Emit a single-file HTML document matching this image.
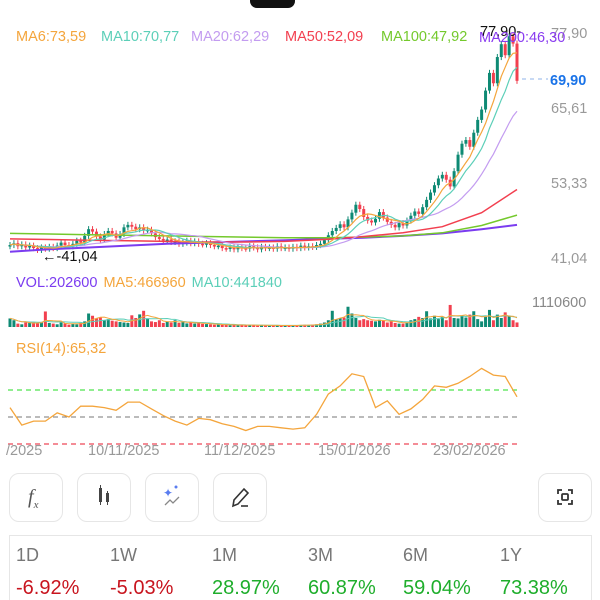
<!DOCTYPE html>
<html><head><meta charset="utf-8">
<style>
html,body{margin:0;padding:0;background:#fff;width:600px;height:600px;overflow:hidden;font-family:"Liberation Sans",sans-serif;}
#wrap{position:relative;width:600px;height:600px;}
.btn{position:absolute;top:473px;width:54px;height:49px;border:1px solid #e6e6e6;border-radius:10px;box-sizing:border-box;background:#fff;}
#stats{position:absolute;left:9px;top:535px;width:583px;height:70px;border:1px solid #e6e6e6;box-sizing:border-box;}
.lab{position:absolute;top:545px;font-size:18px;color:#777;}
.val{position:absolute;top:577px;font-size:20px;}
</style></head><body>
<div id="wrap">
<svg id="chart" width="600" height="470" style="position:absolute;left:0;top:0">
  <rect x="250" y="-10" width="45" height="18" rx="7" fill="#111"/>
  <g font-size="14.5">
    <text x="16" y="41" fill="#f4a53c">MA6:73,59</text>
    <text x="101" y="41" fill="#5ccfb8">MA10:70,77</text>
    <text x="191" y="41" fill="#c39cf0">MA20:62,29</text>
    <text x="285" y="41" fill="#f23f4f">MA50:52,09</text>
    <text x="381" y="41" fill="#74c92c">MA100:47,92</text>
  </g>
  <g font-size="14.5" fill="#999">
    <text x="551" y="38">77,90</text>
    <text x="551" y="113">65,61</text>
    <text x="551" y="188">53,33</text>
    <text x="551" y="263">41,04</text>
  </g>
  <g id="candles"></g>
  <g id="malines"></g>
  <text x="480" y="36" font-size="14.5" fill="#111">77,90-</text>
  <text x="479" y="42" font-size="14.5" fill="#8a3cf0">MA200:46,30</text>
  <text x="42" y="261" font-size="14.5" fill="#111">←-41,04</text>
  <line x1="522" y1="79" x2="548" y2="79" stroke="#8fb3e8" stroke-dasharray="4,4"/>
  <text x="550" y="85" font-size="14.5" fill="#1a73e8" font-weight="bold">69,90</text>

  <text x="16" y="287" font-size="14.5"><tspan fill="#7b3cf0">VOL:202600</tspan><tspan fill="#f4a53c" dx="6">MA5:466960</tspan><tspan fill="#5ccfb8" dx="6">MA10:441840</tspan></text>
  <text x="532" y="307" font-size="14.5" fill="#888">1110600</text>
  <g id="vols"></g>

  <text x="16" y="353" font-size="14.5" fill="#f4a53c">RSI(14):65,32</text>
  <line x1="8" y1="390" x2="520" y2="390" stroke="#22dd22" stroke-dasharray="5,4"/>
  <line x1="8" y1="417" x2="520" y2="417" stroke="#777" stroke-dasharray="5,4"/>
  <line x1="8" y1="444" x2="520" y2="444" stroke="#e8192c" stroke-dasharray="5,4"/>
  <g id="rsi"></g>
  <g font-size="14.5" fill="#999">
    <text x="6" y="455">/2025</text>
    <text x="88" y="455">10/11/2025</text>
    <text x="204" y="455">11/12/2025</text>
    <text x="318" y="455">15/01/2026</text>
    <text x="433" y="455">23/02/2026</text>
  </g>
</svg>

<div class="btn" style="left:9px"><span style="position:absolute;left:18px;top:12px;font-family:'Liberation Serif',serif;font-size:20px;color:#555;font-style:italic">f<sub style="font-size:11px">x</sub></span></div>
<div class="btn" style="left:77px">
  <svg width="54" height="49" style="position:absolute;left:-1px;top:-1px"><rect x="22" y="15" width="3" height="14" fill="#444"/><line x1="23.5" y1="12" x2="23.5" y2="32" stroke="#444"/><rect x="29" y="20" width="3" height="9" fill="#444"/><line x1="30.5" y1="18" x2="30.5" y2="32" stroke="#444"/></svg></div>
<div class="btn" style="left:145px">
  <svg width="54" height="49" style="position:absolute;left:-1px;top:-1px"><text x="18" y="24" font-size="12" fill="#5a7df0">✦</text><circle cx="31" cy="14" r="1.5" fill="#5a7df0"/><polyline points="20,32 25,27 28,30 34,24" fill="none" stroke="#888" stroke-width="1.3"/></svg></div>
<div class="btn" style="left:213px">
  <svg width="54" height="49" style="position:absolute;left:-1px;top:-1px"><path d="M20 33 L21 27 L31 16 L35 20 L25 31 Z" fill="none" stroke="#333" stroke-width="1.6"/><line x1="28" y1="33" x2="35" y2="33" stroke="#333" stroke-width="1.6"/></svg></div>
<div class="btn" style="left:538px">
  <svg width="54" height="49" style="position:absolute;left:-1px;top:-1px"><path d="M20 21 V17 H24 M30 17 H34 V21 M34 27 V31 H30 M24 31 H20 V27" fill="none" stroke="#333" stroke-width="1.8"/><rect x="24" y="21" width="6" height="6" rx="1" fill="none" stroke="#333" stroke-width="1.8"/></svg></div>

<div id="stats"></div>
<span class="lab" style="left:16px">1D</span>
<span class="lab" style="left:110px">1W</span>
<span class="lab" style="left:212px">1M</span>
<span class="lab" style="left:308px">3M</span>
<span class="lab" style="left:403px">6M</span>
<span class="lab" style="left:500px">1Y</span>
<span class="val" style="left:16px;color:#c8141e">-6.92%</span>
<span class="val" style="left:110px;color:#c8141e">-5.03%</span>
<span class="val" style="left:212px;color:#1fae2c">28.97%</span>
<span class="val" style="left:308px;color:#1fae2c">60.87%</span>
<span class="val" style="left:403px;color:#1fae2c">59.04%</span>
<span class="val" style="left:500px;color:#1fae2c">73.38%</span>
</div>
<script>
const closes = [43.0,43.3,42.8,43.1,42.6,42.9,42.5,42.2,42.6,42.4,
42.7,42.5,42.9,43.4,43.0,42.8,43.2,43.7,43.4,44.5,
45.6,45.2,44.4,43.9,44.8,45.3,44.9,44.2,44.8,45.9,
46.3,46.0,45.6,45.9,45.4,45.5,44.9,44.3,44.0,43.8,
43.9,43.5,43.6,43.2,43.4,43.7,43.3,43.6,43.2,43.1,
43.3,43.0,42.8,42.9,42.5,42.4,42.6,42.3,42.7,42.5,
42.4,42.8,42.6,42.3,42.7,42.5,42.6,42.4,42.8,42.5,
42.6,42.4,42.7,42.5,42.9,42.6,42.8,42.7,43.0,43.2,
43.8,44.6,45.3,45.8,46.4,45.9,47.2,48.3,49.6,48.9,
47.6,47.0,46.7,47.3,48.4,47.5,46.8,46.3,45.9,46.6,
46.2,47.0,47.8,48.5,48.1,49.2,50.4,51.6,52.8,53.9,
54.5,53.7,52.6,55.1,57.8,59.6,60.2,59.1,61.4,63.5,
65.2,68.3,71.2,69.5,73.8,75.9,74.1,77.2,76.0,69.9];
const volumes = [380,300,150,120,200,180,220,160,200,690,
180,150,120,200,160,100,150,120,180,250,
600,500,380,420,300,350,280,250,220,200,
180,520,400,560,720,380,250,220,300,180,
250,200,300,180,220,160,200,150,180,140,
130,120,100,110,90,100,80,90,80,100,
80,70,90,60,80,70,60,80,70,60,
70,60,80,70,90,100,80,110,120,150,
200,300,720,350,400,420,900,600,400,300,
350,300,280,250,320,300,200,250,180,150,
150,200,300,350,450,400,700,380,500,350,
450,300,980,400,380,500,420,550,700,350,
250,450,760,300,550,400,650,500,300,202];
const ma50 = [44.0,43.9,43.8,43.7,43.6,43.5,43.5,43.6,43.9,44.4,45.0,46.0,48.3,52.1];
const ma100 = [44.9,44.8,44.7,44.6,44.5,44.4,44.3,44.2,44.2,44.3,44.5,45.0,46.2,47.9];
const ma200 = [41.9,42.3,42.6,42.9,43.2,43.4,43.6,43.8,44.0,44.2,44.5,44.9,45.6,46.3];
const rsiValues = [57,44,47,47,53,50,58,58,57,55,61,61,56,51,47,44,49,48,45,43,40,43,43,42,41,42,52,67,73,82,80,57,62,52,56,63,73,72,75,80,86,81,80,65];

const NS='http://www.w3.org/2000/svg';
const N=closes.length, X0=10, STEP=(517-X0)/(N-1);
const xAt=i=>X0+i*STEP;
const yP=p=>257-(p-41.04)*(225/(77.90-41.04));
const yV=v=>327-v*(25/1110.6);
const yR=r=>417-(r-50)*1.35;
function mk(tag,attrs,parent){const e=document.createElementNS(NS,tag);for(const k in attrs)e.setAttribute(k,attrs[k]);parent.appendChild(e);return e;}
const UP='#0e8a74', DN='#f2404f';
const gC=document.getElementById('candles');
for(let i=0;i<N;i++){
  const o=i?closes[i-1]:closes[0]-0.2, c=closes[i];
  const up=c>=o, col=up?UP:DN;
  const hi=Math.max(o,c)+0.5, lo=Math.min(o,c)-0.5;
  const w=mk('line',{x1:xAt(i),x2:xAt(i),y1:yP(hi),y2:yP(lo),stroke:col,'stroke-width':1},gC);
  
  
  const top=yP(Math.max(o,c)), h=Math.max(1.5,Math.abs(yP(o)-yP(c)));
  const r=mk('rect',{x:xAt(i)-1.5,y:top,width:3,height:h,fill:col},gC);
  
  
  const v=mk('rect',{x:xAt(i)-1.5,y:yV(volumes[i]),width:3,height:327-yV(volumes[i]),fill:col},document.getElementById('vols'));
  
  
}
function sma(arr,n){return arr.map((_,i)=>{const s=Math.max(0,i-n+1);let t=0;for(let j=s;j<=i;j++)t+=arr[j];return t/(i-s+1);});}
function line(pts,color,w,parent,name){
  const p=mk('polyline',{points:pts.map(q=>q[0].toFixed(1)+','+q[1].toFixed(1)).join(' '),fill:'none',stroke:color,'stroke-width':w},parent);
  
  
}
const gM=document.getElementById('malines');
const sampleIdx=k=>Math.min(k*10,N-1);
line(ma200.map((v,k)=>[xAt(sampleIdx(k)),yP(v)]),'#7b3cf0',2,gM,'ma200-line');
line(ma100.map((v,k)=>[xAt(sampleIdx(k)),yP(v)]),'#74c92c',1.5,gM,'ma100-line');
line(ma50.map((v,k)=>[xAt(sampleIdx(k)),yP(v)]),'#f23f4f',1.5,gM,'ma50-line');
line(sma(closes,20).map((v,i)=>[xAt(i),yP(v)]),'#c39cf0',1.2,gM,'ma20-line');
line(sma(closes,10).map((v,i)=>[xAt(i),yP(v)]),'#5ccfb8',1.2,gM,'ma10-line');
line(sma(closes,6).map((v,i)=>[xAt(i),yP(v)]),'#f4a53c',1.2,gM,'ma6-line');
const gVo=document.getElementById('vols');
line(sma(volumes,10).map((v,i)=>[xAt(i),yV(v)]),'#5ccfb8',1,gVo,'volume-ma10-line');
line(sma(volumes,5).map((v,i)=>[xAt(i),yV(v)]),'#f4a53c',1,gVo,'volume-ma5-line');
const rStep=(517-X0)/(rsiValues.length-1);
line(rsiValues.map((v,k)=>[X0+k*rStep,yR(v)]),'#f4a53c',1.3,document.getElementById('rsi'),'rsi-line');
</script>
</body></html>
